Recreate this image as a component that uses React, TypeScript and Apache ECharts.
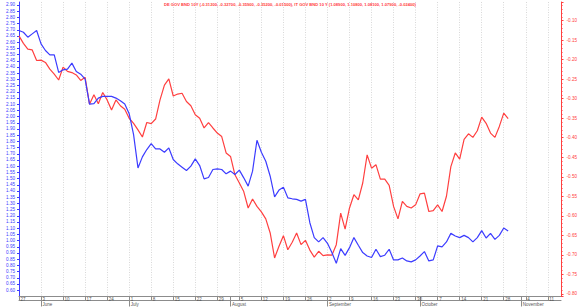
import React, { useEffect, useRef } from "react";
import * as echarts from "echarts";

// ---- data -------------------------------------------------------------
const startDate = "2019-05-27";
const dayCount = 124; // business days shown on the axis (27 May .. mid Nov 2019)

// IT GOV BND 10 Y (left axis, blue), one value per business day from 27 May 2019
const itValues = [
  2.694, 2.68, 2.64, 2.667, 2.694, 2.586, 2.533, 2.498, 2.498, 2.356,
  2.377, 2.383, 2.431, 2.364, 2.342, 2.302, 2.101, 2.104, 2.149, 2.163,
  2.163, 2.163, 2.149, 2.128, 2.101, 2.023, 1.855, 1.586, 1.675, 1.734,
  1.782, 1.739, 1.739, 1.712, 1.747, 1.654, 1.619, 1.592, 1.565, 1.6,
  1.659, 1.605, 1.498, 1.509, 1.573, 1.578, 1.573, 1.538, 1.56, 1.533,
  1.568, 1.506, 1.439, 1.56, 1.809, 1.712, 1.64, 1.519, 1.353, 1.407,
  1.431, 1.345, 1.337, 1.332, 1.318, 1.332, 1.144, 1.024, 0.989, 1.024,
  0.978, 0.903, 0.817, 0.935, 0.881, 0.943, 1.024, 0.962, 0.903, 0.876,
  0.863, 0.93, 0.871, 0.882, 0.93, 0.844, 0.844, 0.86, 0.836, 0.828,
  0.844, 0.876, 0.911, 0.836, 0.844, 0.957, 0.949, 0.989, 1.058, 1.037,
  1.024, 1.042, 1.024, 0.989, 1.024, 1.08, 1.021, 1.058, 1.01, 1.042,
  1.101, 1.077,
];

// DE GOV BND 10Y (right axis, red)
const deValues = [
  -0.139, -0.158, -0.173, -0.175, -0.202, -0.201, -0.207, -0.224, -0.237, -0.252,
  -0.219, -0.23, -0.233, -0.239, -0.253, -0.245, -0.314, -0.29, -0.313, -0.284,
  -0.303, -0.329, -0.303, -0.318, -0.327, -0.35, -0.363, -0.38, -0.398, -0.361,
  -0.364, -0.352, -0.303, -0.265, -0.249, -0.293, -0.288, -0.286, -0.307, -0.318,
  -0.341, -0.35, -0.375, -0.361, -0.375, -0.388, -0.397, -0.439, -0.448, -0.495,
  -0.516, -0.538, -0.58, -0.557, -0.576, -0.59, -0.608, -0.644, -0.708, -0.678,
  -0.651, -0.687, -0.668, -0.644, -0.674, -0.663, -0.688, -0.706, -0.691, -0.702,
  -0.7, -0.701, -0.674, -0.593, -0.634, -0.58, -0.546, -0.559, -0.516, -0.444,
  -0.478, -0.469, -0.506, -0.506, -0.522, -0.576, -0.608, -0.563, -0.576, -0.58,
  -0.572, -0.544, -0.542, -0.589, -0.587, -0.572, -0.589, -0.55, -0.474, -0.439,
  -0.455, -0.404, -0.39, -0.399, -0.382, -0.347, -0.363, -0.388, -0.399, -0.371,
  -0.337, -0.351,
];

const monthNames = [
  "January", "February", "March", "April", "May", "June",
  "July", "August", "September", "October", "November", "December",
];

const titleText =
  "DE GOV BND 10Y (-0.31200, -0.32700, -0.35900, -0.35200, -0.01500), IT GOV BND 10 Y (1.08900, 1.10800, 1.08100, 1.07900, -0.02400)";

// axis extents (value at plot top / bottom)
const leftMin = 0.553;
const leftMax = 2.924;
const rightMin = -0.8056;
const rightMax = -0.0521;
const tickStep = 0.05;

// ---- helpers ----------------------------------------------------------
function businessDays(start: string, count: number): string[] {
  const out: string[] = [];
  const d = new Date(start + "T00:00:00Z");
  while (out.length < count) {
    const wd = d.getUTCDay();
    if (wd !== 0 && wd !== 6) out.push(d.toISOString().slice(0, 10));
    d.setUTCDate(d.getUTCDate() + 1);
  }
  return out;
}

const categories = businessDays(startDate, dayCount);
const isMonday = categories.map(
  (c) => new Date(c + "T00:00:00Z").getUTCDay() === 1
);
const isMonthStart = categories.map(
  (c, i) => i > 0 && c.slice(5, 7) !== categories[i - 1].slice(5, 7)
);

const FONT = "'Liberation Sans', Arial, sans-serif";
const BLUE = "#3c3cff";
const RED = "#ff4040";
const GRAY = "#8c8c8c";

export default function App() {
  const ref = useRef<HTMLDivElement>(null);

  useEffect(() => {
    if (!ref.current) return;
    const chart = echarts.init(ref.current, undefined, { renderer: "svg" });
    chart.setOption({
      animation: false,
      backgroundColor: "#ffffff",
      textStyle: { fontFamily: FONT },
      title: {
        text: titleText,
        left: "center",
        top: 2,
        padding: 0,
        textStyle: {
          color: RED,
          fontSize: 4.1,
          fontWeight: "bold",
          fontFamily: FONT,
        },
      },
      grid: { left: 19, right: 16.5, top: 2, bottom: 10.5 },
      xAxis: [
        {
          type: "category",
          data: categories,
          boundaryGap: false,
          position: "bottom",
          axisLine: { show: true, lineStyle: { color: GRAY, width: 1 } },
          axisTick: {
            show: true,
            interval: (i: number) => isMonday[i],
            length: 4.3,
            lineStyle: { color: GRAY, width: 1 },
          },
          axisLabel: {
            interval: (i: number) => isMonday[i],
            formatter: (v: string) => String(Number(v.slice(8))),
            fontSize: 4.5,
            color: "#555",
            align: "left",
            verticalAlign: "top",
            margin: 1,
            padding: [0, 0, 0, 1.5],
            fontFamily: FONT,
          },
          splitLine: {
            show: true,
            interval: (i: number) => isMonday[i],
            lineStyle: { color: "#d8d8d8", width: 1, type: [1, 1.5] },
          },
        },
        {
          type: "category",
          data: categories,
          boundaryGap: false,
          position: "bottom",
          axisLine: { show: false },
          axisTick: {
            show: true,
            interval: (i: number) => isMonthStart[i],
            length: 10.5,
            lineStyle: { color: GRAY, width: 1 },
          },
          axisLabel: {
            interval: (i: number) => isMonthStart[i],
            formatter: (v: string) => monthNames[Number(v.slice(5, 7)) - 1],
            fontSize: 4.5,
            color: "#555",
            align: "left",
            verticalAlign: "top",
            margin: 6,
            padding: [0, 0, 0, 1.5],
            fontFamily: FONT,
          },
          splitLine: { show: false },
        },
        {
          type: "category",
          data: categories,
          boundaryGap: false,
          position: "bottom",
          offset: 4.3,
          axisLine: { show: true, lineStyle: { color: GRAY, width: 1 } },
          axisTick: { show: false },
          axisLabel: { show: false },
          splitLine: { show: false },
        },
      ],
      yAxis: [
        {
          type: "value",
          position: "left",
          min: leftMin,
          max: leftMax,
          minInterval: tickStep,
          maxInterval: tickStep,
          splitNumber: 47,
          axisLine: { show: true, lineStyle: { color: BLUE, width: 1 } },
          axisTick: { show: true, length: 2, lineStyle: { color: BLUE } },
          axisLabel: {
            fontSize: 4.6,
            color: BLUE,
            margin: 4,
            showMinLabel: false,
            showMaxLabel: false,
            formatter: (v: number) => v.toFixed(2),
            fontFamily: FONT,
          },
          splitLine: { show: false },
        },
        {
          type: "value",
          position: "right",
          min: rightMin,
          max: rightMax,
          minInterval: tickStep,
          maxInterval: tickStep,
          splitNumber: 15,
          axisLine: { show: true, lineStyle: { color: RED, width: 1 } },
          axisTick: { show: true, length: 2.5, lineStyle: { color: RED } },
          minorTick: {
            show: true,
            splitNumber: 5,
            length: 1.5,
            lineStyle: { color: RED },
          },
          axisLabel: {
            fontSize: 4.6,
            color: RED,
            margin: 5.5,
            showMinLabel: false,
            showMaxLabel: false,
            formatter: (v: number) => v.toFixed(2),
            fontFamily: FONT,
          },
          splitLine: { show: false },
        },
      ],
      series: [
        {
          name: "IT GOV BND 10 Y",
          type: "line",
          xAxisIndex: 0,
          yAxisIndex: 0,
          data: itValues,
          symbol: "none",
          lineStyle: { color: BLUE, width: 1.2 },
          z: 3,
        },
        {
          name: "DE GOV BND 10Y",
          type: "line",
          xAxisIndex: 0,
          yAxisIndex: 1,
          data: deValues,
          symbol: "none",
          lineStyle: { color: RED, width: 1.2 },
          z: 2,
        },
      ],
    });
    return () => chart.dispose();
  }, []);

  return (
    <div
      ref={ref}
      style={{ position: "fixed", left: 0, top: 0, width: 580, height: 307 }}
    />
  );
}
